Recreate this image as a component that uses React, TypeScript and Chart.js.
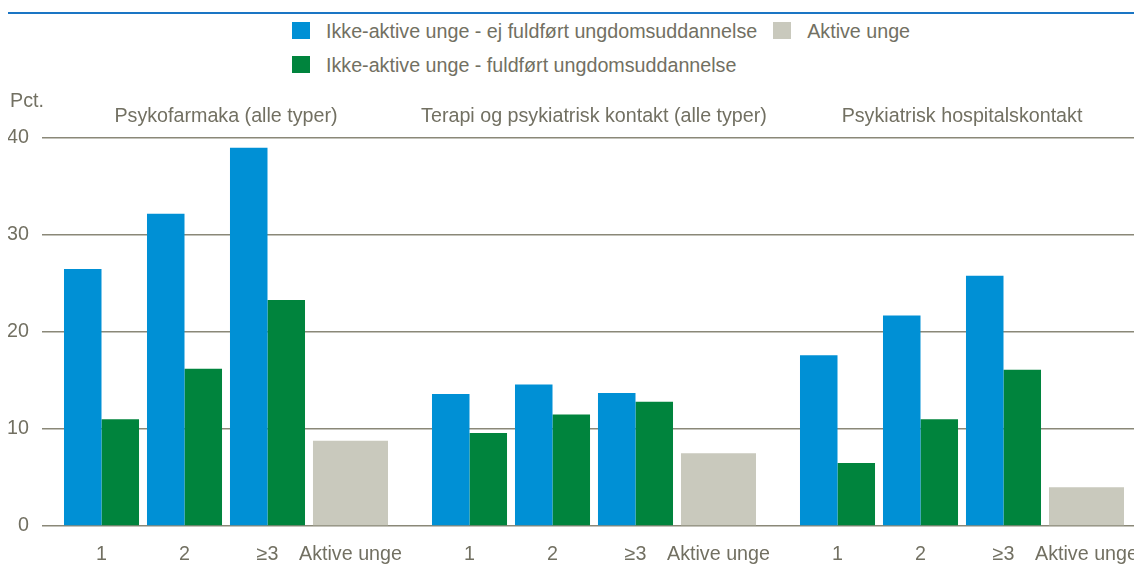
import React, { useEffect, useRef } from 'react';
import { Chart, registerables } from 'chart.js';

Chart.register(...registerables);

// ---- Data ----
const GROUP_TITLES = [
  'Psykofarmaka (alle typer)',
  'Terapi og psykiatrisk kontakt (alle typer)',
  'Psykiatrisk hospitalskontakt',
];
const CATEGORY_LABELS = ['1', '2', '≥3', 'Aktive unge'];
const SERIES_NAMES = [
  'Ikke-aktive unge - ej fuldført ungdomsuddannelse',
  'Ikke-aktive unge - fuldført ungdomsuddannelse',
  'Aktive unge',
];
// per group: values for categories 1, 2, ≥3
const EJ_FULDFOERT = [26.5, 32.2, 39.0, 13.6, 14.6, 13.7, 17.6, 21.7, 25.8];
const FULDFOERT = [11.0, 16.2, 23.3, 9.6, 11.5, 12.8, 6.5, 11.0, 16.1];
// per group: Aktive unge
const AKTIVE = [8.8, 7.5, 4.0];
const Y_TICKS = [0, 10, 20, 30, 40];
const Y_UNIT = 'Pct.';

// ---- Style ----
const COLORS = ['#0090d5', '#00843d', '#c9c9bd'];
const TEXT_COLOR = '#727062';
const GRID_COLOR = '#8a8878';
const FONT_FAMILY = "'Liberation Sans', Arial, sans-serif";
const FONT_SIZE = 19.7;
const GROUP_GAP = 0.434;

const pos = (g: number, i: number) => g * (CATEGORY_LABELS.length + GROUP_GAP) + i;

export default function App() {
  const ref = useRef<HTMLCanvasElement | null>(null);

  useEffect(() => {
    if (!ref.current) return;
    const nGroups = GROUP_TITLES.length;
    const perGroup = CATEGORY_LABELS.length - 1;

    const ejData: { x: number; y: number }[] = [];
    const fuldData: { x: number; y: number }[] = [];
    const aktData: { x: number; y: number }[] = [];
    const tickPos: number[] = [];
    const tickLabels: string[] = [];
    for (let g = 0; g < nGroups; g++) {
      for (let i = 0; i < perGroup; i++) {
        ejData.push({ x: pos(g, i), y: EJ_FULDFOERT[g * perGroup + i] });
        fuldData.push({ x: pos(g, i), y: FULDFOERT[g * perGroup + i] });
      }
      aktData.push({ x: pos(g, perGroup), y: AKTIVE[g] });
      CATEGORY_LABELS.forEach((l, i) => {
        tickPos.push(pos(g, i));
        tickLabels.push(l);
      });
    }

    const titlePlugin = {
      id: 'groupTitles',
      afterDraw(chart: any) {
        const { ctx, chartArea, scales } = chart;
        ctx.save();
        ctx.font = `${FONT_SIZE}px ${FONT_FAMILY}`;
        ctx.fillStyle = TEXT_COLOR;
        ctx.textBaseline = 'middle';
        ctx.textAlign = 'center';
        GROUP_TITLES.forEach((t, g) => {
          const c = scales.x.getPixelForValue(pos(g, (CATEGORY_LABELS.length - 1) / 2));
          ctx.fillText(t, c, chartArea.top - 21);
        });
        ctx.textAlign = 'left';
        ctx.fillText(Y_UNIT, 2, chartArea.top - 36);
        ctx.restore();
      },
    };

    const font = { family: FONT_FAMILY, size: FONT_SIZE };
    const chart = new Chart(ref.current, {
      type: 'bar',
      data: {
        datasets: [
          { label: SERIES_NAMES[0], data: ejData, backgroundColor: COLORS[0], borderWidth: 0 },
          { label: SERIES_NAMES[1], data: fuldData, backgroundColor: COLORS[1], borderWidth: 0 },
          { label: SERIES_NAMES[2], data: aktData, backgroundColor: COLORS[2], borderWidth: 0, grouped: false } as any,
        ],
      },
      options: {
        animation: false,
        responsive: false,
        categoryPercentage: 0.904,
        barPercentage: 1.0,
        layout: { padding: { top: 138, right: 4, bottom: 0, left: 0 } },
        plugins: { legend: { display: false }, tooltip: { enabled: false }, title: { display: false } },
        scales: {
          x: {
            type: 'linear',
            offset: false,
            min: -0.5 - GROUP_GAP / 2,
            max: nGroups * CATEGORY_LABELS.length - 0.5 + (nGroups - 1) * GROUP_GAP + GROUP_GAP / 2,
            grid: { display: false },
            border: { display: false },
            afterBuildTicks: (axis: any) => {
              axis.ticks = tickPos.map((v) => ({ value: v }));
            },
            afterFit: (axis: any) => {
              axis.height = 39;
            },
            ticks: {
              autoSkip: false,
              maxRotation: 0,
              minRotation: 0,
              padding: 9,
              color: TEXT_COLOR,
              font,
              callback: (_v: any, i: number) => tickLabels[i],
            },
          } as any,
          y: {
            min: Y_TICKS[0],
            max: Y_TICKS[Y_TICKS.length - 1],
            afterBuildTicks: (axis: any) => {
              axis.ticks = Y_TICKS.map((v) => ({ value: v }));
            },
            afterFit: (axis: any) => {
              axis.width = 34;
            },
            grid: { color: GRID_COLOR, lineWidth: 1.5, drawTicks: false },
            border: { display: false },
            ticks: { padding: 13, color: TEXT_COLOR, font },
          },
        },
      },
      plugins: [titlePlugin],
    });
    return () => chart.destroy();
  }, []);

  const legendRow = (items: number[]) => (
    <div style={{ display: 'flex', alignItems: 'center', height: 34 }}>
      {items.map((idx, k) => (
        <div key={idx} style={{ display: 'flex', alignItems: 'center', marginLeft: k === 0 ? 0 : 16 }}>
          <span style={{ display: 'inline-block', width: 18, height: 17, background: COLORS[idx] }} />
          <span style={{ marginLeft: 16, paddingTop: 2, whiteSpace: 'nowrap' }}>{SERIES_NAMES[idx]}</span>
        </div>
      ))}
    </div>
  );

  return (
    <div
      style={{
        position: 'fixed',
        left: 0,
        top: 0,
        width: 1134,
        height: 565,
        overflow: 'hidden',
        background: '#ffffff',
      }}
    >
      <div style={{ position: 'absolute', left: 8, top: 12, width: 1126, height: 2, background: '#1a75c4' }} />
      <div
        style={{
          position: 'absolute',
          left: 292,
          top: 13,
          fontFamily: FONT_FAMILY,
          fontSize: FONT_SIZE,
          color: TEXT_COLOR,
        }}
      >
        {legendRow([0, 2])}
        {legendRow([1])}
      </div>
      <div style={{ position: 'absolute', left: 8, top: 0 }}>
        <canvas ref={ref} width={1142} height={565} />
      </div>
    </div>
  );
}
